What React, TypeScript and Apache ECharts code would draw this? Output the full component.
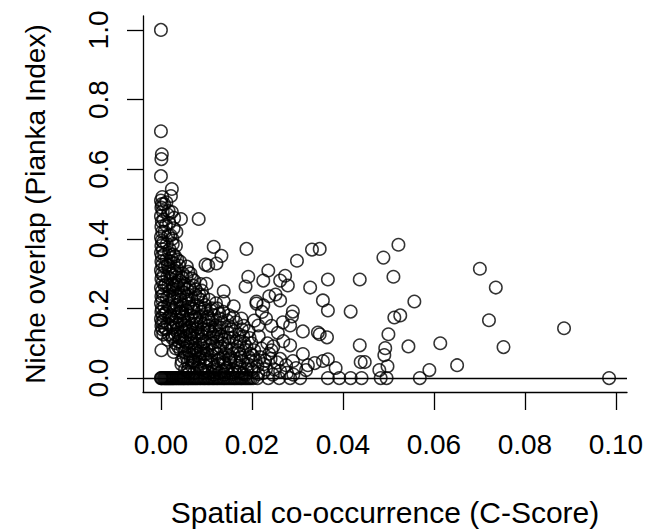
import React, { useEffect, useRef } from "react";
import * as echarts from "echarts";

// x tick values and y tick values
const xTicks = [0, 0.02, 0.04, 0.06, 0.08, 0.1];
const yTicks = [0, 0.2, 0.4, 0.6, 0.8, 1.0];

// Points stacked on the y axis (C-Score near 0)
const columnPoints: number[][] = [
  [0, 1.0], [0, 0.709], [0.0002, 0.643], [0.0001, 0.629], [0, 0.58],
  [0.0003, 0.52], [0, 0.51], [0.0002, 0.5], [0.0001, 0.49], [0.0004, 0.48],
  [0, 0.465], [0.0002, 0.45], [0.0001, 0.435], [0.0003, 0.42], [0, 0.405],
  [0.0002, 0.395], [0.0001, 0.38], [0.0004, 0.37], [0, 0.36], [0.0002, 0.35],
  [0.0001, 0.335], [0.0003, 0.325], [0, 0.31], [0.0002, 0.3], [0.0001, 0.285],
  [0.0004, 0.275], [0, 0.26], [0.0002, 0.25], [0.0001, 0.235], [0.0003, 0.225],
  [0, 0.215], [0.0002, 0.2], [0.0001, 0.19], [0.0004, 0.18], [0, 0.17],
  [0.0002, 0.16], [0.0001, 0.15], [0.0003, 0.14], [0, 0.13], [0.0001, 0.08],
  [0.0012, 0.505], [0.0015, 0.47], [0.0011, 0.44], [0.0016, 0.41], [0.0013, 0.385],
  [0.0018, 0.36], [0.0012, 0.34], [0.0017, 0.315], [0.0014, 0.29], [0.0011, 0.27],
  [0.0019, 0.25], [0.0013, 0.23], [0.0016, 0.21], [0.0012, 0.19], [0.0018, 0.175],
  [0.0014, 0.155], [0.0011, 0.14], [0.0017, 0.125], [0.0015, 0.11],
  [0.0007, 0.5], [0.0006, 0.455], [0.0008, 0.42], [0.0005, 0.39], [0.0007, 0.355],
  [0.0009, 0.32], [0.0006, 0.295], [0.0008, 0.265], [0.0005, 0.24], [0.0007, 0.205],
  [0.0009, 0.185], [0.0006, 0.165], [0.0008, 0.145], [0.0005, 0.125],
];

// Dense cluster at low C-Score
const clusterPoints: number[][] = [
  [0.0024, 0.543], [0.0022, 0.523], [0.0024, 0.477], [0.0044, 0.457], [0.0028, 0.43],
  [0.0025, 0.4], [0.0033, 0.38], [0.0027, 0.355], [0.0036, 0.34], [0.004, 0.323],
  [0.0029, 0.31], [0.0034, 0.29], [0.0026, 0.27], [0.0038, 0.26], [0.0031, 0.245],
  [0.0024, 0.225], [0.0035, 0.21], [0.0028, 0.195], [0.0039, 0.185], [0.0023, 0.17],
  [0.0033, 0.16], [0.0027, 0.145], [0.0037, 0.13], [0.0025, 0.115], [0.0032, 0.1],
  [0.0038, 0.09], [0.0028, 0.075],
  [0.0068, 0.286], [0.0065, 0.3], [0.0052, 0.27], [0.0045, 0.25], [0.006, 0.24],
  [0.0055, 0.225], [0.0048, 0.21], [0.0066, 0.2], [0.0042, 0.19], [0.0058, 0.18],
  [0.0051, 0.165], [0.0069, 0.155], [0.0045, 0.145], [0.0062, 0.135], [0.0054, 0.12],
  [0.0047, 0.11], [0.0067, 0.1], [0.0056, 0.09], [0.0043, 0.08], [0.0063, 0.07],
  [0.005, 0.06], [0.0059, 0.045], [0.0068, 0.035], [0.0046, 0.05], [0.0064, 0.125],
  [0.0049, 0.175], [0.0061, 0.215],
  [0.0083, 0.457], [0.009, 0.251], [0.01, 0.271], [0.0098, 0.326], [0.0075, 0.24],
  [0.0088, 0.225], [0.0079, 0.21], [0.0095, 0.2], [0.0072, 0.19], [0.0085, 0.175],
  [0.0099, 0.165], [0.0077, 0.155], [0.0092, 0.14], [0.0081, 0.13], [0.0073, 0.115],
  [0.0096, 0.105], [0.0087, 0.095], [0.0078, 0.08], [0.0093, 0.07], [0.0084, 0.055],
  [0.0074, 0.045], [0.0097, 0.035], [0.0089, 0.025], [0.0079, 0.03], [0.0091, 0.12],
  [0.0076, 0.1],
  [0.0071, 0.06], [0.0082, 0.07], [0.0058, 0.1], [0.0044, 0.12], [0.0036, 0.14],
  [0.0047, 0.155], [0.0057, 0.14], [0.0069, 0.13], [0.0081, 0.145], [0.0094, 0.155],
  [0.0073, 0.085], [0.0065, 0.055], [0.0052, 0.075], [0.0039, 0.105], [0.0031, 0.125],
  [0.0042, 0.165], [0.0055, 0.195], [0.0067, 0.18], [0.0078, 0.17], [0.0089, 0.19],
  [0.0083, 0.04], [0.0069, 0.045], [0.0044, 0.225], [0.0037, 0.235], [0.0051, 0.245],
  [0.0063, 0.26], [0.0076, 0.255], [0.0084, 0.24], [0.0029, 0.265], [0.0041, 0.28],
  [0.0056, 0.29], [0.0024, 0.3], [0.0035, 0.315], [0.0048, 0.3], [0.0021, 0.335],
  [0.0031, 0.35], [0.0019, 0.37], [0.0026, 0.385], [0.0021, 0.41], [0.0034, 0.42],
  [0.0018, 0.445], [0.0029, 0.46], [0.0017, 0.48], [0.0044, 0.2], [0.0053, 0.15],
  [0.0094, 0.085], [0.0061, 0.03], [0.0053, 0.025], [0.0062, 0.015], [0.0094, 0.015],
  [0.0086, 0.11], [0.0099, 0.045],
];

// Extra filling of the dense cluster, read row by row
const clusterRows: number[][] = [
  [0.0015, 0.325], [0.0028, 0.33], [0.0042, 0.335], [0.0057, 0.32], [0.0023, 0.345],
  [0.0019, 0.305], [0.0032, 0.3], [0.0046, 0.29], [0.006, 0.305], [0.0073, 0.28],
  [0.0021, 0.285], [0.0038, 0.275],
  [0.0016, 0.265], [0.0027, 0.255], [0.0049, 0.265], [0.0058, 0.255], [0.0071, 0.265],
  [0.0087, 0.27], [0.0033, 0.27],
  [0.0018, 0.235], [0.0029, 0.23], [0.0041, 0.24], [0.0056, 0.235], [0.0068, 0.225],
  [0.0081, 0.23], [0.0093, 0.235], [0.0106, 0.225], [0.0121, 0.215],
  [0.0019, 0.205], [0.0031, 0.2], [0.0046, 0.19], [0.0059, 0.205], [0.0071, 0.2],
  [0.0084, 0.2], [0.0097, 0.21], [0.0109, 0.195], [0.0124, 0.2], [0.0137, 0.19],
  [0.0021, 0.18], [0.0034, 0.175], [0.0047, 0.185], [0.0061, 0.17], [0.0074, 0.175],
  [0.0088, 0.16], [0.0102, 0.175], [0.0117, 0.18], [0.0131, 0.17], [0.0146, 0.165],
  [0.0159, 0.175],
  [0.0022, 0.15], [0.0035, 0.155], [0.0049, 0.135], [0.0063, 0.145], [0.0076, 0.14],
  [0.009, 0.13], [0.0105, 0.15], [0.0119, 0.135], [0.0134, 0.145], [0.0149, 0.15],
  [0.0163, 0.135], [0.0178, 0.14],
  [0.0026, 0.12], [0.0041, 0.115], [0.0053, 0.105], [0.0066, 0.115], [0.0079, 0.12],
  [0.0093, 0.1], [0.0109, 0.115], [0.0122, 0.12], [0.0136, 0.1], [0.0151, 0.115],
  [0.0166, 0.105], [0.0181, 0.12], [0.0199, 0.1],
  [0.0033, 0.085], [0.0047, 0.09], [0.0061, 0.08], [0.0074, 0.075], [0.0088, 0.08],
  [0.0101, 0.07], [0.0113, 0.08], [0.0127, 0.085], [0.0142, 0.07], [0.0156, 0.085],
  [0.0173, 0.07], [0.0188, 0.09], [0.0202, 0.065], [0.0221, 0.085], [0.0243, 0.08],
  [0.0045, 0.04], [0.0057, 0.06], [0.0071, 0.05], [0.0086, 0.06], [0.0098, 0.055],
  [0.0112, 0.04], [0.0125, 0.05], [0.0138, 0.045], [0.015, 0.055], [0.0166, 0.045],
  [0.0179, 0.05], [0.0193, 0.06], [0.0208, 0.05], [0.0226, 0.04], [0.0241, 0.055],
  [0.0255, 0.045],
  [0.0058, 0.02], [0.0073, 0.015], [0.0087, 0.025], [0.0101, 0.02], [0.0114, 0.02],
  [0.0128, 0.015], [0.0143, 0.02], [0.0158, 0.012], [0.0172, 0.018], [0.0186, 0.01],
  [0.0199, 0.025], [0.0214, 0.012], [0.0231, 0.025], [0.0246, 0.01], [0.0262, 0.02],
  [0.0277, 0.015], [0.0291, 0.01],
];

// Points between C-Score 0.01 and 0.03
const midPoints: number[][] = [
  [0.0116, 0.377], [0.0133, 0.351], [0.0122, 0.329], [0.0104, 0.323], [0.0138, 0.249],
  [0.0138, 0.22], [0.0112, 0.2], [0.0128, 0.185], [0.0105, 0.17], [0.0134, 0.16],
  [0.0119, 0.15], [0.0108, 0.135], [0.0127, 0.125], [0.014, 0.11], [0.0114, 0.1],
  [0.0131, 0.09], [0.0102, 0.08], [0.0123, 0.07], [0.0137, 0.06], [0.0109, 0.05],
  [0.0126, 0.04], [0.0117, 0.03], [0.0135, 0.02], [0.0106, 0.015], [0.0129, 0.145],
  [0.0111, 0.065], [0.0101, 0.185], [0.0113, 0.165], [0.0121, 0.14], [0.0132, 0.12],
  [0.0103, 0.14], [0.0115, 0.125], [0.0124, 0.105], [0.0107, 0.095], [0.0118, 0.085],
  [0.0129, 0.055], [0.0122, 0.025], [0.0116, 0.01], [0.0139, 0.01], [0.0141, 0.04],
  [0.0144, 0.085],
  [0.0188, 0.371], [0.0192, 0.291], [0.0186, 0.263], [0.016, 0.206], [0.0177, 0.171],
  [0.021, 0.214], [0.015, 0.18], [0.0165, 0.16], [0.0182, 0.15], [0.0155, 0.14],
  [0.0172, 0.125], [0.0195, 0.115], [0.0148, 0.1], [0.0168, 0.09], [0.0185, 0.08],
  [0.0158, 0.07], [0.0176, 0.06], [0.0198, 0.05], [0.0152, 0.045], [0.0169, 0.035],
  [0.0189, 0.025], [0.0162, 0.02], [0.018, 0.012], [0.0145, 0.03], [0.0193, 0.135],
  [0.0174, 0.105], [0.0153, 0.06], [0.0161, 0.05], [0.0147, 0.13], [0.0159, 0.115],
  [0.0171, 0.08], [0.0183, 0.1], [0.0197, 0.07], [0.0191, 0.04], [0.0174, 0.03],
  [0.0157, 0.025],
  [0.0205, 0.08], [0.0218, 0.06], [0.0229, 0.05], [0.0212, 0.035], [0.0238, 0.07],
  [0.0249, 0.025], [0.0203, 0.02], [0.0225, 0.015], [0.0262, 0.055], [0.0257, 0.13],
  [0.0243, 0.15], [0.0215, 0.12], [0.0234, 0.1], [0.0222, 0.19], [0.0205, 0.165],
  [0.0268, 0.16], [0.0252, 0.24], [0.0238, 0.235],
];

// Scattered points at higher C-Score
const sparsePoints: number[][] = [
  [0.0332, 0.369], [0.0349, 0.371], [0.0299, 0.337], [0.0236, 0.309], [0.0273, 0.294],
  [0.0262, 0.28], [0.0279, 0.266], [0.0225, 0.28], [0.0367, 0.283], [0.0437, 0.283],
  [0.0328, 0.26], [0.0356, 0.223], [0.0367, 0.194], [0.0417, 0.191], [0.0262, 0.223],
  [0.029, 0.191], [0.0288, 0.177], [0.0284, 0.151], [0.0312, 0.134], [0.0345, 0.131],
  [0.0349, 0.126], [0.0365, 0.117], [0.0225, 0.209], [0.021, 0.22], [0.0231, 0.171],
  [0.0214, 0.151], [0.0269, 0.106], [0.0247, 0.091], [0.0284, 0.094], [0.0312, 0.069],
  [0.0437, 0.094], [0.0439, 0.046], [0.0367, 0.054], [0.0356, 0.049], [0.0338, 0.043],
  [0.0323, 0.037], [0.0319, 0.023], [0.029, 0.049], [0.0275, 0.037], [0.0297, 0.029],
  [0.0384, 0.029],
  [0.0522, 0.383], [0.0489, 0.346], [0.0511, 0.291], [0.0557, 0.22], [0.0513, 0.174],
  [0.0526, 0.18], [0.05, 0.126], [0.0493, 0.086], [0.0491, 0.066], [0.0544, 0.091],
  [0.0614, 0.1], [0.0448, 0.046], [0.0498, 0.034], [0.048, 0.023], [0.059, 0.023],
  [0.0651, 0.037], [0.0701, 0.314], [0.0736, 0.26], [0.0721, 0.166], [0.0753, 0.089],
  [0.0886, 0.143],
];

// C-Score values of points with zero niche overlap
const zeroX: number[] = [
  0, 0.0001, 0.0003, 0.0006, 0.0008, 0.001, 0.0012, 0.0014, 0.0016, 0.0018,
  0.002, 0.0022, 0.0024, 0.0026, 0.0028, 0.003, 0.0033, 0.0035, 0.0038, 0.004,
  0.0043, 0.0045, 0.0048, 0.005, 0.0052, 0.0055, 0.0058, 0.006, 0.0063, 0.0066,
  0.0069, 0.0072, 0.0075, 0.0078, 0.0081, 0.0085, 0.0088, 0.0092, 0.0095, 0.0098,
  0.0102, 0.0105, 0.0108, 0.0112, 0.0115, 0.0118, 0.0122, 0.0125, 0.0129, 0.0133,
  0.0137, 0.014, 0.0144, 0.0148, 0.0152, 0.0156, 0.016, 0.0163, 0.0167, 0.0171,
  0.0175, 0.0178, 0.0182, 0.0186, 0.019, 0.0194, 0.0198, 0.0203, 0.0212, 0.0236,
  0.026, 0.0284, 0.0306, 0.0367, 0.0392, 0.0417, 0.0441, 0.0483, 0.0496, 0.0569,
  0.0985,
];

const FONT = "'Liberation Sans', Arial, Helvetica, sans-serif";

export default function App() {
  const ref = useRef<HTMLDivElement>(null);
  useEffect(() => {
    if (!ref.current) return;
    const chart = echarts.init(ref.current, undefined, { renderer: "svg" });
    const data = [
      ...columnPoints,
      ...clusterPoints,
      ...clusterRows,
      ...midPoints,
      ...sparsePoints,
      ...zeroX.map((x) => [x, 0]),
    ];
    chart.setOption({
      animation: false,
      backgroundColor: "#ffffff",
      grid: { left: 143, top: 16, width: 484, height: 378 },
      xAxis: {
        type: "value",
        min: -0.00394,
        max: 0.10244,
        name: "Spatial co-occurrence (C-Score)",
        nameLocation: "middle",
        nameGap: 105,
        nameTextStyle: { fontSize: 30, color: "#000", fontFamily: FONT },
        splitLine: { show: false },
        axisLine: { show: true, onZero: false, lineStyle: { color: "#000", width: 1.3 } },
        axisTick: {
          show: true,
          length: 18,
          customValues: xTicks,
          lineStyle: { color: "#000", width: 1.3 },
        },
        axisLabel: {
          show: true,
          customValues: xTicks,
          margin: 38,
          fontSize: 28,
          color: "#000",
          fontFamily: FONT,
          formatter: (v: number) => v.toFixed(2),
        },
      },
      yAxis: {
        type: "value",
        min: -0.04,
        max: 1.04,
        name: "Niche overlap (Pianka Index)",
        nameLocation: "middle",
        nameGap: 94,
        nameTextStyle: { fontSize: 28, color: "#000", fontFamily: FONT },
        splitLine: { show: false },
        axisLine: { show: true, onZero: false, lineStyle: { color: "#000", width: 1.3 } },
        axisTick: {
          show: true,
          length: 16,
          customValues: yTicks,
          lineStyle: { color: "#000", width: 1.3 },
        },
        axisLabel: {
          show: true,
          customValues: yTicks,
          rotate: 90,
          margin: 31,
          fontSize: 28,
          color: "#000",
          fontFamily: FONT,
          formatter: (v: number) => v.toFixed(1),
        },
      },
      series: [
        {
          type: "scatter",
          data,
          symbol: "circle",
          symbolSize: 12.5,
          itemStyle: { color: "rgba(0,0,0,0)", borderColor: "#000", borderWidth: 1.5 },
          markLine: {
            silent: true,
            symbol: ["none", "none"],
            label: { show: false },
            lineStyle: { color: "#000", width: 1.3, type: "solid" },
            data: [{ yAxis: 0 }],
          },
        },
      ],
    });
    return () => chart.dispose();
  }, []);
  return (
    <div
      ref={ref}
      style={{ position: "fixed", left: 0, top: 0, width: 648, height: 532, background: "#fff" }}
    />
  );
}
